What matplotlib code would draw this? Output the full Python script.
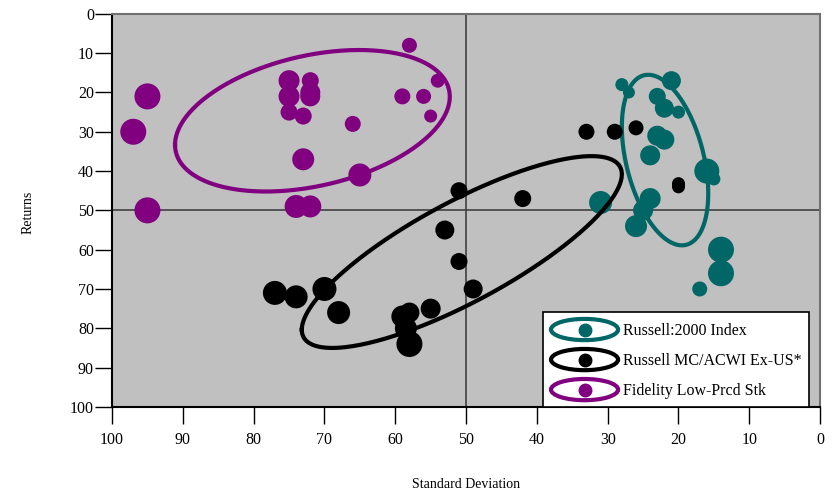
import numpy as np
import matplotlib.pyplot as plt
from matplotlib.patches import Ellipse
from matplotlib.lines import Line2D
from matplotlib.legend_handler import HandlerBase

plt.rcParams['font.family'] = ['Liberation Serif', 'DejaVu Serif']

labels = ["Russell:2000 Index", "Russell MC/ACWI Ex-US*", "Fidelity Low-Prcd Stk"]
colors = ["#006666", "#000000", "#800080"]

# Russell 2000
r2k_sd = [28, 27, 21, 23, 22, 20, 23, 22, 24, 16, 15, 31, 24, 25, 26, 14, 14, 17]
r2k_ret = [18, 20, 17, 21, 24, 25, 31, 32, 36, 40, 42, 48, 47, 50, 54, 60, 66, 70]
r2k_wt = [13, 12, 19, 17, 19, 13, 20, 20, 20, 25, 13, 23, 21, 20, 22, 26, 26, 15]

# Russell MC / ACWI ex-US
mc_sd = [33, 29, 26, 20, 20, 51, 42, 53, 51, 49, 77, 74, 70, 68, 59, 58, 55, 58.5, 58]
mc_ret = [30, 30, 29, 43.2, 44, 45, 47, 55, 63, 70, 71, 72, 70, 76, 77, 76, 75, 80, 84]
mc_wt = [16, 16, 15, 13, 13, 17, 17, 19, 17, 19, 24, 23, 24, 23, 22, 20, 20, 22, 26]

# Fidelity Low-Priced Stock
fid_sd = [95, 97, 95, 75, 72, 75, 72, 72, 75, 73, 66, 58, 59, 56, 54, 55, 73, 65, 74, 72]
fid_ret = [21, 30, 50, 17, 17, 21, 20, 21, 25, 26, 28, 8, 21, 21, 17, 26, 37, 41, 49, 49]
fid_wt = [26, 26, 26, 21, 17, 21, 20, 20, 17, 17, 16, 15, 16, 15, 14, 13, 22, 23, 23, 22]

# ellipse summary: centre, half extents, correlation
ell_cx = [21.9, 50.6, 71.7]
ell_cy = [37.2, 60.6, 27.2]
ell_ax = [6.1, 22.6, 19.4]
ell_ay = [21.7, 24.4, 18.0]
ell_rho = [-0.39, 0.81, 0.34]

xs = [r2k_sd, mc_sd, fid_sd]
ys = [r2k_ret, mc_ret, fid_ret]
ws = [r2k_wt, mc_wt, fid_wt]


class EllipseHandler(HandlerBase):
    def create_artists(self, legend, orig_handle, xdescent, ydescent,
                       width, height, fontsize, trans):
        c = orig_handle.get_color()
        cx = 0.5 * width - xdescent
        cy = 0.5 * height - ydescent
        e = Ellipse((cx, cy), width, height * 1.15, fill=False,
                    edgecolor=c, lw=3, transform=trans)
        dot = Line2D([cx], [cy], marker='o', ms=9, color=c, lw=0,
                     transform=trans)
        return [e, dot]


fig = plt.figure(figsize=(8.36, 4.95), dpi=100)
ax = fig.add_axes([0.134, 0.178, 0.847, 0.794])
ax.set_facecolor('#c0c0c0')

ax.axvline(50, color='#404040', lw=1.2, zorder=1)
ax.axhline(50, color='#404040', lw=1.2, zorder=1)

t = np.linspace(0, 2 * np.pi, 300)
handles = []
for i in range(3):
    phi = np.arccos(ell_rho[i])
    ex = ell_cx[i] + ell_ax[i] * np.cos(t)
    ey = ell_cy[i] + ell_ay[i] * np.cos(t - phi)
    ln, = ax.plot(ex, ey, color=colors[i], lw=3, zorder=2 + 2 * i, label=labels[i])
    handles.append(ln)
    s = (np.array(ws[i]) * 0.72) ** 2
    ax.scatter(xs[i], ys[i], s=s, color=colors[i], linewidths=0, zorder=3 + 2 * i)

ax.set_xlim(100, 0)
ax.set_ylim(100, 0)
ax.set_xticks(np.arange(0, 101, 10))
ax.set_yticks(np.arange(0, 101, 10))
ax.tick_params(axis='x', direction='out', length=12, width=1, labelsize=11.5, pad=6)
ax.tick_params(axis='y', direction='out', length=12, width=1, labelsize=11.5, pad=1)

for side in ['left', 'bottom']:
    ax.spines[side].set_color('black')
    ax.spines[side].set_linewidth(1.5)
for side in ['top', 'right']:
    ax.spines[side].set_color('#707070')
    ax.spines[side].set_linewidth(1.5)

ax.set_xlabel("Standard Deviation", fontsize=10)
ax.set_ylabel("Returns", fontsize=10)
ax.xaxis.set_label_coords(0.5, -0.182)
ax.yaxis.set_label_coords(-0.11, 0.496)

leg = ax.legend(handles=handles, handler_map={Line2D: EllipseHandler()},
                loc='lower right', bbox_to_anchor=(0.985, 0.0), borderaxespad=0,
                fontsize=11.5, handlelength=4.2, handleheight=1.4, handletextpad=0.3,
                labelspacing=0.72, borderpad=0.5, fancybox=False, framealpha=1,
                edgecolor='black')
leg.get_frame().set_linewidth(1.2)
leg.set_zorder(10)

plt.savefig('out.png', dpi=100)
